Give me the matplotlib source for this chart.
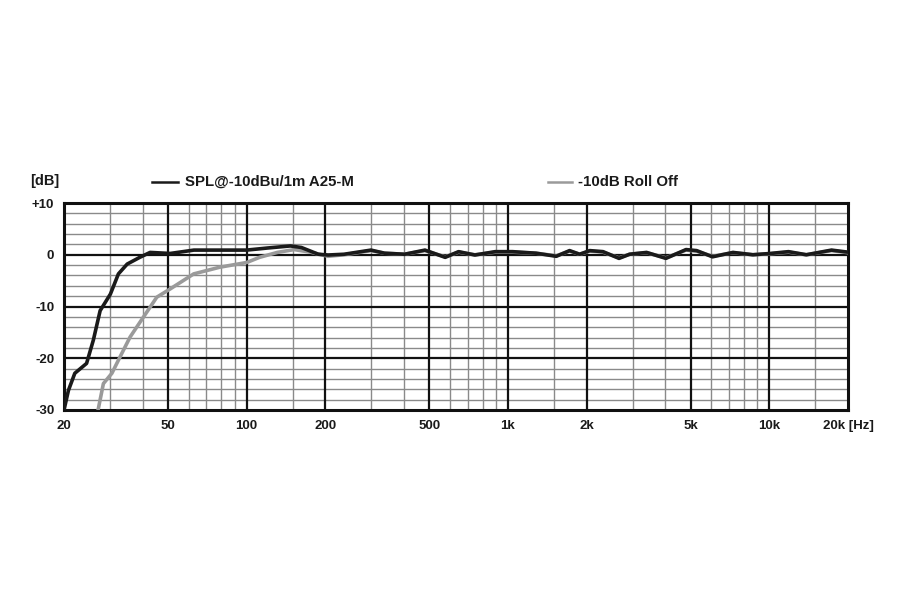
import matplotlib
matplotlib.use("Agg")
import matplotlib.pyplot as plt
from matplotlib.ticker import FixedLocator, NullFormatter, NullLocator

plt.rcParams['font.family'] = ['Liberation Sans', 'DejaVu Sans']

# SPL@-10dBu/1m A25-M (black)
spl_freq = [20, 20.8, 22.0, 24.4, 25.9, 27.5, 30.1, 32.3, 34.9, 39.0, 42.7, 51, 62.8, 84, 100,
            120, 147, 162, 188, 205, 236, 299, 337, 402, 481, 575, 647, 747, 894, 1040, 1280,
            1530, 1720, 1880, 2055, 2310, 2660, 2920, 3390, 4020, 4800, 5270, 6060, 7260,
            8650, 10100, 11840, 13850, 17300, 20000]
spl_db = [-30, -26.2, -22.9, -21.0, -16.5, -10.8, -7.6, -3.7, -1.8, -0.5, 0.45, 0.25, 0.9, 0.9, 0.9,
          1.3, 1.7, 1.4, 0.1, -0.05, 0.1, 0.9, 0.3, 0.1, 0.9, -0.5, 0.6, -0.05, 0.6, 0.6, 0.3,
          -0.3, 0.8, 0.1, 0.8, 0.6, -0.7, 0.1, 0.45, -0.7, 1.0, 0.8, -0.4, 0.45,
          0.0, 0.25, 0.6, 0.0, 0.9, 0.5]

# -10dB Roll Off (gray)
roll_freq = [27.0, 28.3, 30.5, 32.8, 35.8, 40.2, 45.3, 51, 62.7, 79, 100, 112, 131, 152, 175,
             205, 236, 299, 337, 402, 481, 575, 647, 747, 894, 1040, 1280, 1530, 1720, 1880,
             2055, 2310, 2660, 2920, 3390, 4020, 4800, 5270, 6060, 7260, 8650, 10100, 11840,
             13850, 17300, 20000]
roll_db = [-30, -24.9, -22.9, -19.7, -15.9, -12.1, -8.2, -6.6, -3.7, -2.4, -1.5, -0.5, 0.45, 1.0, 0.5,
           -0.3, 0.0, 0.8, 0.3, 0.1, 0.8, -0.4, 0.5, 0.0, 0.5, 0.5, 0.3,
           -0.2, 0.7, 0.1, 0.7, 0.5, -0.6, 0.1, 0.4, -0.6, 0.9, 0.7, -0.3, 0.4,
           0.0, 0.2, 0.5, 0.0, 0.8, 0.4]

x_major = [20, 50, 100, 200, 500, 1000, 2000, 5000, 10000, 20000]
x_labels = ['20', '50', '100', '200', '500', '1k', '2k', '5k', '10k', '20k [Hz]']
x_minor = [30, 40, 60, 70, 80, 90, 150, 300, 400, 600, 700, 800, 900, 1500, 3000, 4000,
           6000, 7000, 8000, 9000, 15000]
y_major = [-30, -20, -10, 0, 10]
y_labels = ['-30', '-20', '-10', '0', '+10']
y_minor = [-28, -26, -24, -22, -18, -16, -14, -12, -8, -6, -4, -2, 2, 4, 6, 8]

fig = plt.figure(figsize=(9, 6), dpi=100)
ax = fig.add_axes([64/900, 1-410/600, (848-64)/900, (410-203)/600])
ax.set_xscale('log')
ax.set_xlim(20, 20000)
ax.set_ylim(-30, 10)

for v in x_minor:
    ax.axvline(v, color='#8a8a8a', lw=1.0, zorder=1)
for v in y_minor:
    ax.axhline(v, color='#8a8a8a', lw=1.0, zorder=1)
for v in x_major[1:-1]:
    ax.axvline(v, color='#111111', lw=1.6, zorder=2)
for v in y_major[1:-1]:
    ax.axhline(v, color='#111111', lw=1.6, zorder=2)

ax.plot(roll_freq, roll_db, color='#9a9a9a', lw=2.6, zorder=3, solid_joinstyle='round')
ax.plot(spl_freq, spl_db, color='#1a1a1a', lw=2.6, zorder=4, solid_joinstyle='round')

ax.xaxis.set_major_locator(FixedLocator(x_major))
ax.xaxis.set_minor_locator(NullLocator())
ax.xaxis.set_minor_formatter(NullFormatter())
ax.set_xticklabels(x_labels)
ax.set_yticks(y_major)
ax.set_yticklabels(y_labels)
ax.tick_params(length=0, labelsize=9.5, pad=7, colors='#1a1a1a')
for lab in ax.get_xticklabels() + ax.get_yticklabels():
    lab.set_fontweight('bold')

for s in ax.spines.values():
    s.set_linewidth(2.2)
    s.set_color('#111111')

fig.text(30/900, 1-181/600, '[dB]', fontsize=10.5, fontweight='bold', color='#1a1a1a', va='center')
# legend
fig.add_artist(plt.Line2D([152/900, 178/900], [1-182/600]*2, color='#1a1a1a', lw=1.8))
fig.text(185/900, 1-182/600, 'SPL@-10dBu/1m A25-M', fontsize=10.8, fontweight='bold', color='#1a1a1a', va='center')
fig.add_artist(plt.Line2D([548/900, 572/900], [1-182/600]*2, color='#9a9a9a', lw=1.8))
fig.text(578/900, 1-182/600, '-10dB Roll Off', fontsize=10.8, fontweight='bold', color='#1a1a1a', va='center')

fig.savefig('out.png', dpi=100, facecolor='white')
